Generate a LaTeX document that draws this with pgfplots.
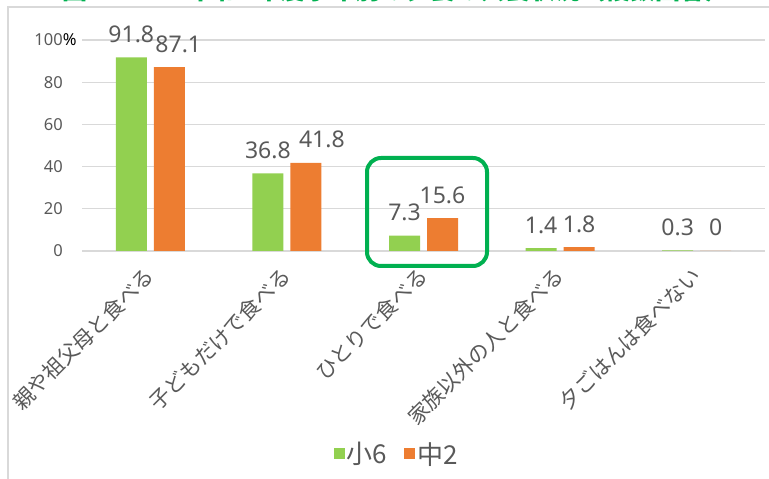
\documentclass[border=0pt]{standalone}
\usepackage{fontspec}
\setmainfont{Noto Sans}
\newfontfamily\cjk{Noto Sans CJK JP}
\usepackage{pgfplots}
\usepackage{pgfplotstable}
\pgfplotsset{compat=1.18}
\definecolor{g6}{HTML}{92D050}
\definecolor{o2}{HTML}{ED7D31}
\definecolor{txt}{HTML}{595959}
\definecolor{gridc}{HTML}{D9D9D9}
\definecolor{ttl}{HTML}{00B050}

% x = category, y = %, dx = label nudge (pt)
\pgfplotstableread{
x y dx
0 91.8 0
1 36.8 0
2 7.3 0
3 1.4 0
4 0.3 0
}\sho
\pgfplotstableread{
x y dx
0 87.1 9
1 41.8 16
2 15.6 0
3 1.8 0
4 0 0
}\chu

\begin{document}
\begin{tikzpicture}[x=1pt,y=1pt]
\useasboundingbox (0,0) rectangle (769,479);
\draw[gridc,line width=1.2pt] (8,-5) -- (8,472) -- (775,472);
\node[anchor=base west,inner sep=0,text=ttl,font=\cjk\bfseries\fontsize{25}{30}\selectfont] at (62,479) {図3-3};
\node[anchor=base west,inner sep=0,text=ttl,font=\cjk\bfseries\fontsize{25}{30}\selectfont] at (190,479) {令和2年度学年別の夕食の共食状況（複数回答）};
\begin{axis}[
  at={(82pt,228pt)},anchor=south west,
  scale only axis,width=683pt,height=211pt,
  ybar=7pt,bar width=31pt,
  xmin=-0.5,xmax=4.5,ymin=0,ymax=100,
  xtick={0,1,2,3,4},
  xticklabels={親や祖父母と食べる,子どもだけで食べる,ひとりで食べる,家族以外の人と食べる,夕ごはんは食べない},
  xticklabel style={font=\cjk\fontsize{21}{24}\selectfont,text=txt,inner sep=0pt,yshift=-21pt,rotate=45,anchor=east},
  ytick={0,20,40,60,80,100},
  yticklabels={0,20,40,60,80,{100\rlap{\color{black}\%}}},
  yticklabel style={font=\fontsize{16.5}{18}\selectfont,text=txt,inner sep=0pt,xshift=-19pt,anchor=east},
  major tick length=0pt,
  axis lines*=left,
  x axis line style={gridc,line width=1.2pt},
  y axis line style={draw=none},
  ymajorgrids=true,grid style={gridc,line width=1.2pt},
  every axis plot/.append style={draw=none},
  /pgf/number format/assume math mode=true,
  nodes near coords,
  visualization depends on={\thisrow{dx}\as\dx},
  nodes near coords style={anchor=base,inner sep=0pt,yshift=15pt,xshift=\dx pt,font=\fontsize{23}{26}\selectfont,text=txt},
  legend style={at={(0.461,-0.962)},anchor=center,draw=none,fill=none,font=\cjk\fontsize{26}{30}\selectfont,text=txt,legend columns=2,/tikz/every even column/.append style={column sep=15pt}},
  legend image code/.code={\fill[#1] (0pt,-5.5pt) rectangle (11pt,5.5pt);},
]
  \addplot[fill=g6] table[x=x,y=y] {\sho};
  \addplot[fill=o2] table[x=x,y=y] {\chu};
  \legend{小6,中2}
\end{axis}
\draw[ttl,line width=4pt,rounded corners=14pt] (367,321) rectangle (487,213);
\end{tikzpicture}
\end{document}
